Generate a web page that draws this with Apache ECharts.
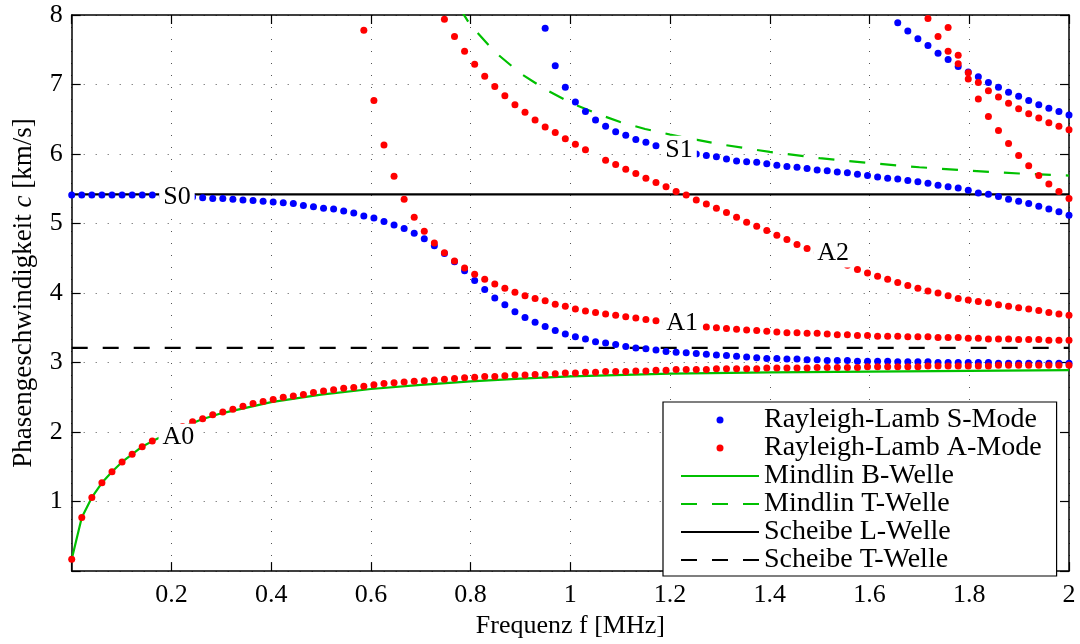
<!DOCTYPE html>
<html>
<head>
<meta charset="utf-8">
<title>Phasengeschwindigkeit</title>
<script src="https://cdn.jsdelivr.net/npm/echarts@6/dist/echarts.min.js"></script>
<style>
    html, body { margin: 0; padding: 0; background: #fff; }
    #chart { width: 1080px; height: 644px; }
</style>
</head>
<body>
<div id="chart"></div>
<script>
    // Abstand der berechneten Frequenzpunkte (100 Punkte von 0 bis 2 MHz)
    var fStep = 2 / 99;

    // Rayleigh-Lamb S-Moden: Startindex + Phasengeschwindigkeiten [km/s]
    var s0Start = 0;
    var s0 = [5.41, 5.41, 5.41, 5.41, 5.41, 5.41, 5.41, 5.41, 5.41, 5.40,
        5.39, 5.39, 5.38, 5.37, 5.36, 5.36, 5.35, 5.34, 5.33, 5.32,
        5.31, 5.30, 5.29, 5.26, 5.24, 5.22, 5.21, 5.18, 5.15, 5.11,
        5.08, 5.03, 4.98, 4.93, 4.86, 4.78, 4.68, 4.57, 4.45, 4.32,
        4.18, 4.05, 3.93, 3.83, 3.73, 3.65, 3.58, 3.52, 3.46, 3.41,
        3.37, 3.34, 3.30, 3.28, 3.26, 3.23, 3.21, 3.20, 3.18, 3.16,
        3.15, 3.14, 3.13, 3.12, 3.11, 3.10, 3.09, 3.08, 3.07, 3.06,
        3.06, 3.05, 3.05, 3.04, 3.04, 3.03, 3.03, 3.03, 3.02, 3.02,
        3.02, 3.02, 3.01, 3.01, 3.01, 3.01, 3.00, 3.00, 3.00, 3.00,
        3.00, 3.00, 2.99, 2.99, 2.99, 2.99, 2.99, 2.99, 2.99, 2.99];
    var s1Start = 47;
    var s1 = [7.81, 7.27, 6.96, 6.75, 6.61, 6.49, 6.40, 6.32, 6.27, 6.21,
        6.17, 6.12, 6.09, 6.06, 6.03, 6.00, 5.98, 5.96, 5.93, 5.90,
        5.89, 5.88, 5.86, 5.84, 5.82, 5.81, 5.79, 5.77, 5.76, 5.74,
        5.73, 5.71, 5.69, 5.67, 5.65, 5.64, 5.62, 5.60, 5.58, 5.55,
        5.53, 5.51, 5.48, 5.44, 5.42, 5.39, 5.35, 5.32, 5.29, 5.25,
        5.21, 5.17, 5.12];
    var s2Start = 82;
    var s2 = [7.89, 7.77, 7.66, 7.56, 7.45, 7.36, 7.26, 7.18, 7.11, 7.03,
        6.96, 6.89, 6.83, 6.77, 6.71, 6.66, 6.61, 6.56];

    // Rayleigh-Lamb A-Moden
    var a0Start = 0;
    var a0 = [0.17, 0.77, 1.06, 1.27, 1.43, 1.57, 1.68, 1.79, 1.87, 1.95,
        2.02, 2.08, 2.15, 2.19, 2.25, 2.29, 2.33, 2.37, 2.41, 2.44,
        2.47, 2.50, 2.52, 2.54, 2.57, 2.59, 2.61, 2.63, 2.64, 2.66,
        2.68, 2.70, 2.71, 2.72, 2.73, 2.74, 2.75, 2.76, 2.77, 2.78,
        2.79, 2.80, 2.80, 2.81, 2.82, 2.82, 2.83, 2.83, 2.84, 2.85,
        2.85, 2.86, 2.86, 2.87, 2.87, 2.87, 2.88, 2.88, 2.89, 2.89,
        2.90, 2.90, 2.90, 2.90, 2.91, 2.91, 2.91, 2.91, 2.91, 2.92,
        2.92, 2.92, 2.92, 2.92, 2.93, 2.93, 2.93, 2.93, 2.93, 2.94,
        2.94, 2.94, 2.94, 2.94, 2.94, 2.95, 2.95, 2.95, 2.95, 2.95,
        2.95, 2.95, 2.96, 2.96, 2.96, 2.96, 2.96, 2.96, 2.96, 2.96];
    var a1Start = 29;
    var a1 = [7.78, 6.77, 6.13, 5.68, 5.35, 5.09, 4.89, 4.72, 4.58, 4.46,
        4.36, 4.27, 4.20, 4.13, 4.07, 4.01, 3.96, 3.92, 3.89, 3.84,
        3.81, 3.77, 3.74, 3.72, 3.70, 3.68, 3.66, 3.64, 3.62, 3.60,
        3.58, 3.57, 3.55, 3.53, 3.51, 3.50, 3.49, 3.48, 3.47, 3.46,
        3.45, 3.44, 3.43, 3.43, 3.42, 3.42, 3.41, 3.40, 3.40, 3.39,
        3.39, 3.38, 3.38, 3.38, 3.37, 3.37, 3.37, 3.36, 3.36, 3.36,
        3.35, 3.35, 3.34, 3.34, 3.34, 3.33, 3.33, 3.33, 3.32, 3.32,
        3.32];
    var a2Start = 37;
    var a2 = [7.94, 7.69, 7.48, 7.29, 7.12, 6.97, 6.84, 6.71, 6.60, 6.49,
        6.39, 6.31, 6.22, 6.14, 6.06, null, 5.91, 5.85, 5.78, 5.72,
        5.65, 5.59, 5.53, 5.46, 5.41, 5.34, 5.28, 5.22, 5.16, 5.09,
        5.02, 4.96, 4.90, 4.83, 4.77, 4.70, 4.64, 4.58, 4.52, 4.46,
        4.40, 4.34, 4.29, 4.24, 4.20, 4.15, 4.11, 4.07, 4.03, 4.00,
        3.96, 3.92, 3.90, 3.88, 3.86, 3.83, 3.81, 3.79, 3.77, 3.75,
        3.72, 3.70, 3.68];
    var a3Start = 85;
    var a3 = [7.95, 7.69, 7.48, 7.30, 7.08, 6.79, 6.54, 6.34, 6.15, 5.98,
        5.83, 5.69, 5.57, 5.46, 5.36];
    var a4Start = 87;
    var a4 = [7.82, 7.42, 7.17, 7.03, 6.91, 6.82, 6.73, 6.65, 6.58, 6.52,
        6.45, 6.40, 6.35];

    // Mindlin-Platte [f, c]
    var mindlinB = [[0, 0.17], [0.0202, 0.77], [0.0404, 1.06], [0.0606, 1.27], [0.0808, 1.43],
        [0.101, 1.57], [0.121, 1.68], [0.141, 1.79], [0.162, 1.87], [0.2, 2.00],
        [0.26, 2.18], [0.3, 2.27], [0.4, 2.43], [0.5, 2.54], [0.6, 2.62],
        [0.7, 2.68], [0.8, 2.73], [0.9, 2.77], [1.0, 2.80], [1.2, 2.84],
        [1.4, 2.86], [1.6, 2.87], [1.8, 2.88], [2.0, 2.89]];
    var mindlinT = [[0.778, 8.1], [0.8, 7.85], [0.85, 7.46], [0.9, 7.16], [0.95, 6.93],
        [1.0, 6.74], [1.05, 6.59], [1.1, 6.46], [1.15, 6.36], [1.2, 6.28],
        [1.3, 6.14], [1.4, 6.03], [1.5, 5.94], [1.6, 5.87], [1.7, 5.81],
        [1.8, 5.76], [1.9, 5.72], [2.0, 5.69]];

    // Scheibe
    var scheibeL = 5.42;
    var scheibeT = 3.21;

    // Beschriftungen der Moden [Text, f, c]
    var modeLabels = [['S0', 0.211, 5.38], ['S1', 1.218, 6.06], ['A0', 0.214, 1.92],
        ['A1', 1.224, 3.57], ['A2', 1.527, 4.57]];

    var FONT = "'Liberation Serif', 'DejaVu Serif', serif";
    var GREEN = '#00c000';

    function pts(start, vals) {
        var out = [];
        for (var i = 0; i < vals.length; i++) {
            if (vals[i] === null) continue;
            out.push([(start + i) * fStep, vals[i]]);
        }
        return out;
    }

    function dots(name, color, start, vals) {
        return {
            name: name, type: 'scatter', data: pts(start, vals),
            symbolSize: 7, itemStyle: {color: color, opacity: 1}, z: 5, silent: true
        };
    }

    function line(name, data, color, dashed) {
        return {
            name: name, type: 'line', data: data, symbol: 'none', showSymbol: false,
            lineStyle: {color: color, width: 2.2, type: dashed ? [16, 15] : 'solid'},
            z: 3, silent: true
        };
    }

    var S = 'Rayleigh-Lamb S-Mode', A = 'Rayleigh-Lamb A-Mode';

    var series = [
        dots(S, '#0000ff', s0Start, s0),
        dots(S, '#0000ff', s1Start, s1),
        dots(S, '#0000ff', s2Start, s2),
        dots(A, '#ff0000', a0Start, a0),
        dots(A, '#ff0000', a1Start, a1),
        dots(A, '#ff0000', a2Start, a2),
        dots(A, '#ff0000', a3Start, a3),
        dots(A, '#ff0000', a4Start, a4),
        line('Mindlin B-Welle', mindlinB, GREEN, false),
        line('Mindlin T-Welle', mindlinT, GREEN, true),
        line('Scheibe L-Welle', [[0, scheibeL], [2, scheibeL]], '#000', false),
        line('Scheibe T-Welle', [[0, scheibeT], [2, scheibeT]], '#000', true),
        {
            name: 'labels', type: 'scatter', symbol: 'rect', symbolSize: 1,
            itemStyle: {color: '#fff', opacity: 1}, z: 20, silent: true,
            data: modeLabels.map(function (l) { return {name: l[0], value: [l[1], l[2]]}; }),
            label: {
                show: true, position: 'inside', formatter: '{b}', opacity: 1,
                fontFamily: FONT, fontSize: 26, color: '#000',
                backgroundColor: '#fff', padding: [0, 4], lineHeight: 28
            }
        }
    ];

    var axisLine = {show: true, onZero: false, lineStyle: {color: '#000', width: 1.5}};
    var axisTick = {show: true, inside: true, length: 9, lineStyle: {color: '#000', width: 1.2}};
    var gridLine = {show: true, lineStyle: {color: '#555', width: 1, type: [1, 11]}};
    var noMark = {opacity: 0};

    var chart = echarts.init(document.getElementById('chart'));
    chart.setOption({
        animation: false,
        backgroundColor: '#fff',
        grid: {left: 71.7, right: 11, top: 15, bottom: 72},
        xAxis: [{
            type: 'value', min: 0, max: 2, interval: 0.2, position: 'bottom',
            axisLine: axisLine, axisTick: axisTick, splitLine: gridLine,
            axisLabel: {
                margin: 11, fontFamily: FONT, fontSize: 26, color: '#000',
                formatter: function (v) { return v === 0 ? '' : String(Math.round(v * 10) / 10); }
            },
            name: 'Frequenz f [MHz]', nameLocation: 'middle', nameGap: 36,
            nameTextStyle: {fontFamily: FONT, fontSize: 26, color: '#000'}
        }, {
            type: 'value', min: 0, max: 2, interval: 0.2, position: 'top',
            axisLine: axisLine, axisTick: axisTick, splitLine: {show: false},
            axisLabel: {show: false}
        }],
        yAxis: [{
            type: 'value', min: 0, max: 8, interval: 1, position: 'left',
            axisLine: axisLine, axisTick: axisTick, splitLine: gridLine,
            axisLabel: {
                margin: 9, fontFamily: FONT, fontSize: 26, color: '#000',
                formatter: function (v) { return v === 0 ? '' : String(v); }
            },
            name: 'Phasengeschwindigkeit {i|c} [km/s]', nameLocation: 'middle', nameGap: 34,
            nameTextStyle: {
                fontFamily: FONT, fontSize: 27, color: '#000',
                rich: {i: {fontFamily: FONT, fontSize: 27, fontStyle: 'italic', color: '#000'}}
            }
        }, {
            type: 'value', min: 0, max: 8, interval: 1, position: 'right',
            axisLine: axisLine, axisTick: axisTick, splitLine: {show: false},
            axisLabel: {show: false}
        }],
        legend: {
            orient: 'vertical', left: 663, top: 402,
            padding: [4, 15, 2, 17], itemGap: 0,
            itemWidth: 78, itemHeight: 7,
            backgroundColor: '#fff', borderColor: '#000', borderWidth: 1.2, borderRadius: 0,
            selectedMode: false,
            textStyle: {fontFamily: FONT, fontSize: 28, color: '#000', lineHeight: 25},
            data: [
                {name: S, icon: 'circle', itemStyle: {opacity: 1}},
                {name: A, icon: 'circle', itemStyle: {opacity: 1}},
                {name: 'Mindlin B-Welle', itemStyle: noMark},
                {name: 'Mindlin T-Welle', itemStyle: noMark},
                {name: 'Scheibe L-Welle', itemStyle: noMark},
                {name: 'Scheibe T-Welle', itemStyle: noMark}
            ]
        },
        series: series
    });
</script>
</body>
</html>
